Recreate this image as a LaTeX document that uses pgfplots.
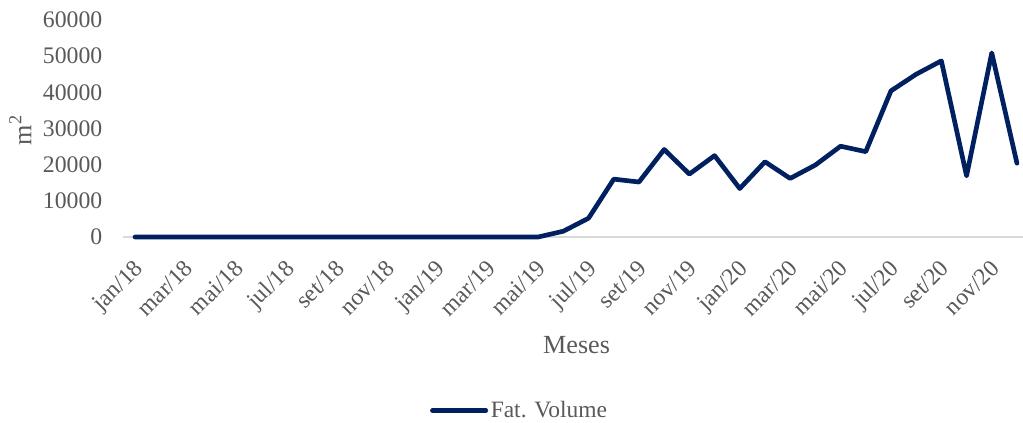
\documentclass[border=0pt]{standalone}
\usepackage{pgfplots}
\pgfplotsset{compat=1.18}
\usepackage{fontspec}
\setmainfont{Liberation Serif}
\definecolor{navy}{HTML}{002060}
\definecolor{txtgray}{HTML}{595959}
\definecolor{basegray}{HTML}{D9D9D9}
\begin{document}
\begin{tikzpicture}
\path[use as bounding box] (-92.25pt,-139.5pt) rectangle (675pt,177.75pt);
\begin{axis}[
  at={(0,0)}, anchor=south west,
  scale only axis, width=675pt, height=162.75pt,
  xmin=-0.476, xmax=35.24, ymin=0, ymax=60000,
  axis line style={draw=none},
  axis x line*=bottom, axis y line*=left,
  xtick={0,2,...,34},
  xticklabels={jan/18,mar/18,mai/18,jul/18,set/18,nov/18,jan/19,mar/19,mai/19,jul/19,set/19,nov/19,jan/20,mar/20,mai/20,jul/20,set/20,nov/20},
  ytick={0,10000,...,60000},
  major tick length=0pt,
  scaled y ticks=false,
  /pgf/number format/assume math mode=true,
  yticklabel={\pgfmathprintnumber[fixed,1000 sep={}]{\tick}},
  tick label style={font=\fontsize{17.8}{19}\selectfont, text=txtgray},
  xticklabel style={rotate=45, anchor=north east, inner sep=2pt, xshift=-10.5pt, yshift=-8pt},
  yticklabel style={xshift=-12pt},
  xlabel={Meses}, ylabel={m\textsuperscript{2}},
  label style={font=\fontsize{19.6}{21}\selectfont, text=txtgray},
  xlabel style={at={(axis description cs:0.504,-0.498)}, anchor=center},
  ylabel style={at={(axis description cs:-0.114,0.493)}, anchor=center},
  legend style={draw=none, fill=none, at={(axis description cs:0.441,-0.80)}, anchor=center,
    font=\fontsize{17.6}{19}\selectfont, text=txtgray},
  legend image code/.code={\draw[#1] (0pt,0pt) -- (40pt,0pt);},
  clip=false,
]
\draw[basegray, line width=0.9pt] (axis cs:-0.476,0) -- (axis cs:35.24,0);
\addplot[navy, line width=3.5pt, line cap=round, line join=round] coordinates {
(0,0) (1,0) (2,0) (3,0) (4,0) (5,0) (6,0) (7,0) (8,0) (9,0) (10,0) (11,0)
(12,0) (13,0) (14,0) (15,0) (16,0) (17,1600) (18,5200) (19,16000) (20,15200)
(21,24200) (22,17400) (23,22500) (24,13400) (25,20800) (26,16200) (27,19900)
(28,25100) (29,23600) (30,40400) (31,45000) (32,48700) (33,16900) (34,50900) (35,20400)
};
\addlegendentry{Fat. Volume}
\end{axis}
\end{tikzpicture}
\end{document}
